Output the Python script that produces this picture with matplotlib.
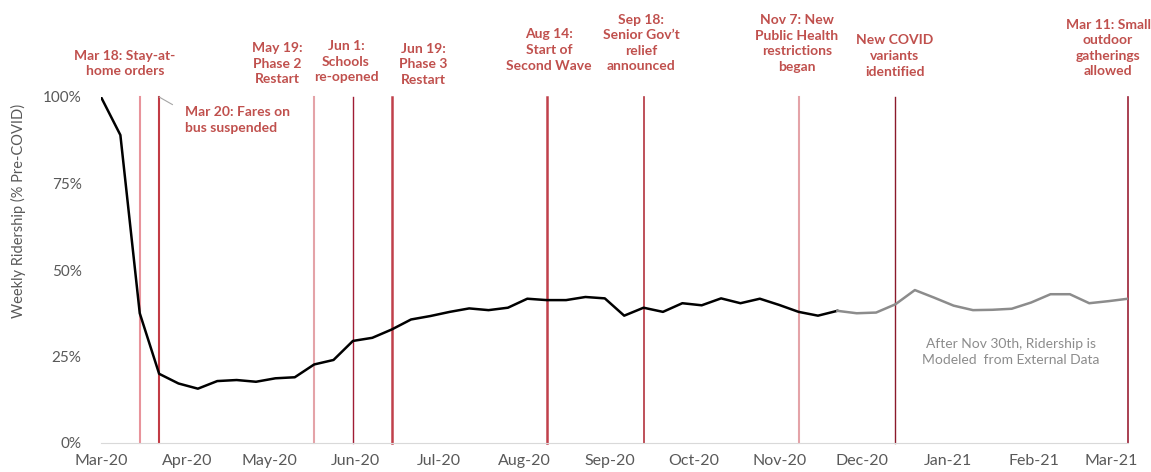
#!/usr/bin/env python3
"""Weekly ridership vs pre-COVID, with key event markers."""

import matplotlib

matplotlib.use("Agg")
import matplotlib.dates as mdates
import matplotlib.pyplot as plt
import numpy as np
import pandas as pd

plt.rcParams["font.family"] = ["Lato", "DejaVu Sans"]

# weekly ridership as share of pre-COVID, first week starting 2020-03-04
START = "2020-03-04"
RIDERSHIP = [
    100, 89, 37.5, 20, 17.2, 15.7, 17.9, 18.2, 17.7, 18.7,
    19.0, 22.7, 24.0, 29.5, 30.4, 32.8, 35.7, 36.7, 37.9, 38.9,
    38.4, 39.1, 41.7, 41.3, 41.3, 42.2, 41.8, 36.8, 39.1, 37.9,
    40.4, 39.8, 41.8, 40.4, 41.7, 39.9, 37.9, 36.8, 38.2, 37.5,
    37.7, 40.1, 44.2, 42.0, 39.7, 38.4, 38.5, 38.8, 40.6, 43.0,
    43.0, 40.4, 41.0, 41.7,
]
LAST_OBSERVED = 38  # points after this week are modelled

# events: week index the marker sits on, and its label
EVENT_WEEKS = [2, 3, 11, 13, 15, 23, 28, 36, 41, 53]
EVENT_LABELS = [
    "Mar 18: Stay-at-\nhome orders",
    "Mar 20: Fares on\nbus suspended",
    "May 19:\nPhase 2\nRestart",
    "Jun 1:\nSchools\nre-opened",
    "Jun 19:\nPhase 3\nRestart",
    "Aug 14:\nStart of\nSecond Wave",
    "Sep 18:\nSenior Gov\u2019t\nrelief\nannounced",
    "Nov 7: New\nPublic Health\nrestrictions\nbegan",
    "New COVID\nvariants\nidentified",
    "Mar 11: Small\noutdoor\ngatherings\nallowed",
]

# styling / layout (pixels on the 1151x472 canvas, y from top)
EVENT_COLORS = ["#e8939b", "#c23b45", "#e4a3a8", "#a01c34", "#c0404a",
                "#c0404a", "#b3323d", "#e4a3a8", "#8b1a2b", "#9b2035"]
EVENT_WIDTHS = [1.5, 1.5, 1.5, 1.0, 1.8, 1.8, 1.2, 1.5, 1.0, 1.2]
LABEL_POS = [(125, 63.5), (185, 120), (277, 63.5), (346, 61.5), (423, 64.5),
             (549, 50), (641, 43), (797, 43.5), (895, 56), (1108, 48)]
LABEL_HA = ["center", "left"] + ["center"] * 8
TEXT_RED = "#c0504d"
GREY = "#595959"

W, H = 1151, 472

weeks = pd.date_range(START, periods=len(RIDERSHIP), freq="7D")
values = np.array(RIDERSHIP) / 100.0

fig = plt.figure(figsize=(W / 100, H / 100), dpi=100)
ax = fig.add_axes([101 / W, 1 - 443 / H, (1128 - 101) / W, (443 - 97) / H])

for wk, col, lw in zip(EVENT_WEEKS, EVENT_COLORS, EVENT_WIDTHS):
    ax.axvline(weeks[wk], color=col, lw=lw, zorder=1, clip_on=False)

ax.plot(weeks[: LAST_OBSERVED + 1], values[: LAST_OBSERVED + 1],
        color="black", lw=1.8, zorder=3)
ax.plot(weeks[LAST_OBSERVED:], values[LAST_OBSERVED:],
        color="#8c8c8c", lw=1.8, zorder=3)

ax.set_yticks([0, 0.25, 0.5, 0.75, 1.0])
ax.set_yticklabels(["0%", "25%", "50%", "75%", "100%"])

month_ticks = pd.date_range(START, periods=13, freq=pd.DateOffset(months=1))
ax.set_xticks(month_ticks)
ax.xaxis.set_major_formatter(mdates.DateFormatter("%b-%y"))
ax.set_xlim(weeks[0], weeks[-1])
ax.set_ylim(0, 1)

ax.tick_params(axis="both", length=0, labelcolor=GREY)
ax.tick_params(axis="y", pad=14, labelsize=11)
ax.tick_params(axis="x", pad=8, labelsize=11.5)
for side in ["top", "right", "left"]:
    ax.spines[side].set_visible(False)
ax.spines["bottom"].set_color("#d9d9d9")

fig.text(18 / W, 1 - 211 / H, "Weekly Ridership (% Pre-COVID)", rotation=90,
         ha="center", va="center", fontsize=10.5, color=GREY)

for i, (label, (px, py), ha) in enumerate(zip(EVENT_LABELS, LABEL_POS, LABEL_HA)):
    kw = dict(ha=ha, va="center", fontsize=10, fontweight="bold",
              color=TEXT_RED, linespacing=1.35)
    if i == 1:
        ax.annotate(label, xy=(weeks[EVENT_WEEKS[i]], 1.0), xycoords="data",
                    xytext=(px, H - py), textcoords="figure pixels",
                    arrowprops=dict(arrowstyle="-", color="#a6a6a6", lw=0.8,
                                    relpos=(0, 0.8), shrinkA=8, shrinkB=0),
                    **kw)
    else:
        ax.annotate(label, xy=(px, H - py), xycoords="figure pixels", **kw)

fig.text(1011 / W, 1 - 352 / H,
         "After Nov 30th, Ridership is\nModeled  from External Data",
         ha="center", va="center", fontsize=10, color="#8c8c8c",
         linespacing=1.4)

fig.savefig("out.png", dpi=100)
